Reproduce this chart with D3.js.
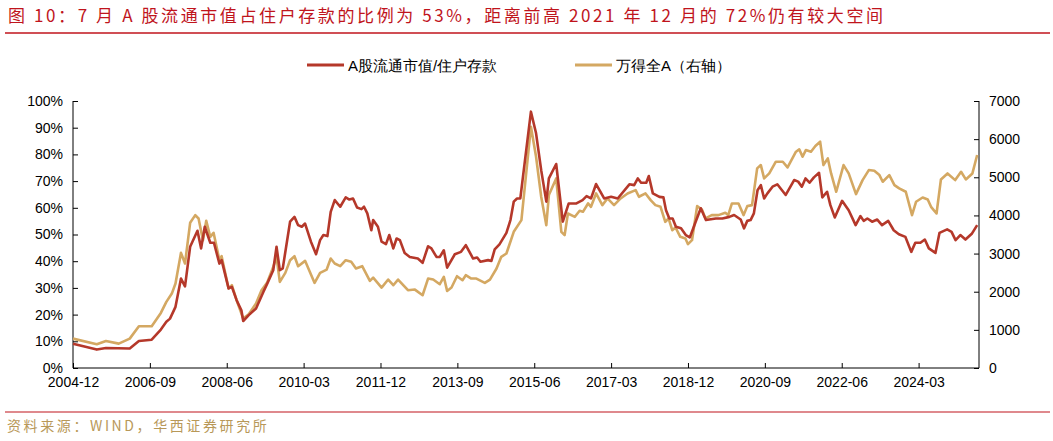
<!DOCTYPE html>
<html><head><meta charset="utf-8">
<script src="https://cdn.jsdelivr.net/npm/d3@7"></script>
<style>body{margin:0;background:#fff}</style>
</head><body>
<div id="vis"></div>
<script>
// months counted from 2004-12
const tickLabels = ["2004-12","2006-09","2008-06","2010-03","2011-12","2013-09","2015-06","2017-03","2018-12","2020-09","2022-06","2024-03"];
const ratioMonths = [0,6.5,9,15.5,18,21.5,24,25.5,26.5,28,29.5,30.6,32,34,35,36,37.5,38.5,40,40.6,42.5,43.4,44.7,46,46.5,48,50,52,53,54.7,55.6,56.5,57.3,59.3,60.5,61.5,62.5,63.4,65,66.4,67.5,68.4,69.5,70.4,71.5,73,74.5,75.5,76.5,77.6,78.8,79.5,80.4,81.5,82,83.3,84.3,85.5,86.4,87.5,88.4,89.3,90.6,92,94.2,95.5,97,97.9,99.3,100.2,101.3,102.2,104.3,106,107.3,109.3,110.4,111.3,113.4,114.3,115.2,116.5,118.4,119.5,120.4,121.3,122.2,125.1,126.5,127.9,129.3,130,132,133.8,135.4,137.4,139.2,140.3,141.5,142.9,145.1,147,148.8,152,153.3,154.3,155.2,156.6,157.3,158.4,160.2,161.3,162,162.9,163.8,164.7,166.1,167.4,168.5,170.1,171.5,172.9,175.6,177.4,179.3,180.6,182.4,183.3,184.2,185.1,186,187,187.9,188.8,189.7,191.1,192.4,194.7,197,198.1,199.1,200.1,201.2,202.4,203.8,204.7,206,206.9,208.1,210.1,211.9,213.8,215.1,216,217,218.3,219.7,221,222.7,224.2,225.6,227.4,229,230.1,231.5,232.7,233.8,235.6,236.7,238.8,240,241.1,242.4,243.8,245.6,247];
const ratioValues = [9.1,6.9,7.5,7.3,10.1,10.6,14.4,17.3,18.5,22.9,33.5,30.6,45.4,51.4,44.8,52.9,46.9,46.9,39.1,40.4,29.8,30.4,25.4,21.6,17.6,19.8,22.3,28.5,31.4,36.6,45.4,36.6,37.3,54.8,56.6,53.5,52.9,54.1,47.3,42.6,47.9,49.8,49.4,58.5,62.9,60.4,63.9,63.1,63.5,60.1,59.5,60.4,57.9,51.6,55.4,52.9,47.3,46.4,49.8,44.8,48.5,47.9,43.1,41.6,41,39.4,45.6,44.8,41.6,41.6,44.1,37.6,42.6,43.5,46,41,41.4,39.8,40.4,40.1,44.4,46.3,50.6,55.4,62.3,63.5,63.5,96,87.9,74.1,62.3,71,76.4,54.8,61.6,61.6,62.9,64.4,63.5,68.9,63.5,64.1,63.5,68.8,68.5,71,69.4,69.4,71.9,65.4,64.1,63.9,59.1,56,56,52.9,52.3,49.8,48.9,54.8,59.8,55.4,56,56,56.6,57.3,55.6,52.3,55.1,55.4,57.9,66.6,68.5,63.5,65.4,67.9,68.8,64.8,70.4,69.8,67.9,71,69.4,71.4,73.1,63.9,66,61,56.4,62.6,59.1,53.5,56.9,55.1,56,54.8,55.6,53.5,55.1,51.6,50.1,49.1,43.5,46.9,46.9,48.1,44.8,43.1,50.6,51.9,51,47.9,49.8,48.1,50.4,53.5];
const indexMonths = [0,6.5,9,12.5,15.5,18,21.5,24,25.5,27,28,29.5,30.6,32,33.4,34.3,35.5,36.4,37.5,38.4,40,40.6,42.5,43.4,44.7,46.5,48,50,51.5,53,54.7,55.6,56.5,58,59.3,60.5,61.5,63.4,66,67.5,69.3,70.4,71.5,73,74.5,76,77.3,79,81.1,82,84.3,86.1,87.5,88.8,91.5,93.4,95.5,97,98.4,100.2,101.3,102.2,103.4,104.9,106.4,107.3,108.8,110.2,112.5,113.9,115.7,117,118.4,120.4,122.5,125.1,126.5,127.9,129.3,130,132,133.4,134.3,135.2,137.1,138.4,139.3,140.7,141.5,142.9,144.6,146,147.8,149.6,151.5,153.7,154.6,156.4,157.8,159.1,160.5,161.8,162.7,163.7,164.6,165.9,167.3,168,169.1,170.5,171.8,172.8,174.5,176.3,178.2,179,180,181.8,183.2,184.2,185.5,186.9,187.9,188.8,190.2,192,193.9,195.2,197.5,198.4,199.3,200.2,201.6,202.8,204.1,205,206.2,207.1,208.5,210.5,211.9,213.9,215.7,217.4,218.9,220.3,221.2,223,224.4,225.7,227.5,229.2,230.3,232.1,233.5,234.4,235.9,237.1,238.9,241,242.6,243.9,245.7,247];
const indexValues = [770,621,709,639,770,1094,1094,1444,1733,1951,2214,3019,2739,3806,4008,3920,3351,3859,3439,3544,2826,2931,2083,2170,1776,1295,1409,1689,2039,2231,2651,2914,2258,2494,2826,2931,2669,2809,2231,2494,2581,2870,2739,2669,2826,2783,2608,2669,2284,2371,2109,2319,2170,2319,2039,2056,1908,2345,2319,2196,2389,2021,2109,2406,2301,2433,2345,2345,2231,2319,2608,2914,3001,3570,3876,6326,5539,4489,3745,4533,4970,3570,3483,4051,3964,4121,4095,4314,4226,4576,4270,4445,4270,4445,4576,4664,4489,4576,4401,4270,4226,3833,3920,3614,3684,3439,3395,3246,3351,4244,4156,3920,4008,4008,4069,4008,4314,4314,4008,4244,4270,5233,5320,4970,5101,5408,5408,5259,5670,5731,5539,5714,5670,5819,5933,5320,5495,5101,4620,5320,5101,4559,4926,5189,5171,5058,4883,5058,4795,4708,4620,4008,4358,4471,4419,4226,4051,4944,5101,4926,5145,4944,5101,5583];

const W = 1053, H = 441;
const margin = { top: 101, right: 74, bottom: 73, left: 73 };
const svg = d3.select("#vis").append("svg").attr("width", W).attr("height", H)
    .style("font-family", "Liberation Sans, Arial, sans-serif");

const x = d3.scaleLinear().domain([0, 247.5]).range([margin.left, W - margin.right]);
const yL = d3.scaleLinear().domain([0, 100]).range([H - margin.bottom, margin.top]);
const yR = d3.scaleLinear().domain([0, 7000]).range([H - margin.bottom, margin.top]);

// title + rules
svg.append("text").attr("x", 8).attr("y", 22).attr("fill", "#c0141c")
    .style("font-family", "Noto Sans CJK SC").style("font-size", "17px").style("letter-spacing", "2.6px")
    .text("图 10：7 月 A 股流通市值占住户存款的比例为 53%，距离前高 2021 年 12 月的 72%仍有较大空间");
svg.append("line").attr("x1", 5).attr("x2", 1050).attr("y1", 33).attr("y2", 33).attr("stroke", "#c0141c").attr("stroke-width", 1.5);
svg.append("line").attr("x1", 5).attr("x2", 1050).attr("y1", 412).attr("y2", 412).attr("stroke", "#c0141c").attr("stroke-width", 1.2);
svg.append("text").attr("x", 7).attr("y", 431).attr("fill", "#b89858")
    .style("font-family", "Noto Sans CJK SC").style("font-size", "14px").style("letter-spacing", "2.6px")
    .text("资料来源：WIND，华西证券研究所");

// axes
const xAxis = d3.axisBottom(x).tickValues(d3.range(0, 232, 21)).tickSize(-5).tickPadding(9)
    .tickFormat((d, i) => tickLabels[i]);
const gx = svg.append("g").attr("transform", `translate(0,${H - margin.bottom})`).call(xAxis);
const gl = svg.append("g").attr("transform", `translate(${margin.left},0)`)
    .call(d3.axisLeft(yL).tickValues(d3.range(0, 101, 10)).tickSize(-5).tickPadding(10).tickFormat(d => d + "%"));
const gr = svg.append("g").attr("transform", `translate(${W - margin.right},0)`)
    .call(d3.axisRight(yR).tickValues(d3.range(0, 7001, 1000)).tickSize(-5).tickPadding(10).tickFormat(d3.format("d")));
[gx, gl, gr].forEach(g => {
    g.selectAll("text").style("font-size", "14px").attr("fill", "#000");
    g.selectAll("line,path").attr("stroke", "#000");
});
gx.select(".domain").attr("d", `M${margin.left},0H${W - margin.right}`);
gl.select(".domain").attr("d", `M0,${margin.top}V${H - margin.bottom}`);
gr.select(".domain").attr("d", `M0,${margin.top}V${H - margin.bottom}`);

const red = "#b5382a", tan = "#d4a862";
const lineL = d3.line().x(d => x(d[0])).y(d => yL(d[1]));
const lineR = d3.line().x(d => x(d[0])).y(d => yR(d[1]));
svg.append("path").datum(d3.zip(indexMonths, indexValues)).attr("d", lineR)
    .attr("fill", "none").attr("stroke", tan).attr("stroke-width", 2.6).attr("stroke-linejoin", "round");
svg.append("path").datum(d3.zip(ratioMonths, ratioValues)).attr("d", lineL)
    .attr("fill", "none").attr("stroke", red).attr("stroke-width", 2.6).attr("stroke-linejoin", "round");

// legend
const legend = [["A股流通市值/住户存款", red, 307], ["万得全A（右轴）", tan, 575]];
legend.forEach(([t, c, lx]) => {
    svg.append("line").attr("x1", lx).attr("x2", lx + 37).attr("y1", 65).attr("y2", 65).attr("stroke", c).attr("stroke-width", 3);
    svg.append("text").attr("x", lx + 41).attr("y", 70.5).style("font-size", "15px").text(t);
});
</script>
</body></html>
